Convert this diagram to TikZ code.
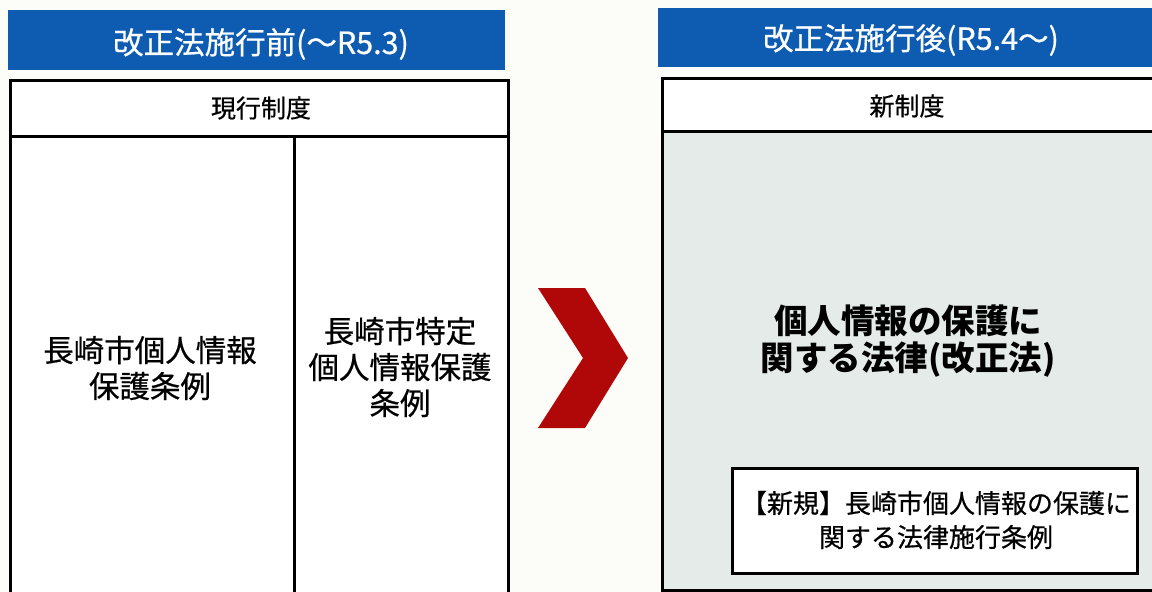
\documentclass[tikz,border=0pt]{standalone}
\usepackage{fontspec}
\setmainfont{Noto Sans CJK JP}
\newfontfamily\jpmed{Noto Sans CJK JP}[FakeBold=0.6]
\definecolor{hdrblue}{RGB}{14,92,178}
\definecolor{bgpaper}{RGB}{252,252,248}
\definecolor{newfill}{RGB}{228,235,232}
\definecolor{chevred}{RGB}{176,8,8}
\begin{document}
\begin{tikzpicture}[x=1pt,y=-1pt,
  hdrbar/.style={fill=hdrblue, draw=none},
  hdrtext/.style={text=white, font=\jpmed\fontsize{30.5}{34}\selectfont, inner sep=0pt},
  frameline/.style={line width=3pt, draw=black},
  celltext/.style={font=\jpmed\fontsize{30.5}{36}\selectfont, align=center, inner sep=0pt},
  headtext/.style={font=\jpmed\fontsize{25}{30}\selectfont, inner sep=0pt},
  bigtext/.style={font=\bfseries\fontsize{33.5}{37}\selectfont, align=center, inner sep=0pt},
  innertext/.style={font=\jpmed\fontsize{26}{34}\selectfont, align=center, inner sep=0pt},
]
\useasboundingbox (0,0) rectangle (1152,592);
\clip (0,0) rectangle (1152,592);
\fill[bgpaper] (0,0) rectangle (1152,592);

% headers
\fill[hdrbar] (8,10) rectangle (505,70);
\node[hdrtext] (h1) at (261,44) {改正法施行前(～R5.3)};
\fill[hdrbar] (658,8) rectangle (1160,67);
\node[hdrtext] (h2) at (911,40) {改正法施行後(R5.4～)};

% left frame
\fill[white] (10,80) rectangle (508,610);
\draw[frameline] (10,610) -- (10,80) -- (508,80) -- (508,610);
\draw[frameline] (10,136) -- (508,136);
\draw[frameline] (294,136) -- (294,610);
\node[headtext] (cur) at (261,108) {現行制度};
\node[celltext] (l1) at (150,368) {長崎市個人情報\\保護条例};
\node[celltext] (l2) at (400,367) {長崎市特定\\個人情報保護\\条例};

% chevron
\fill[chevred] (538,288) -- (585,288) -- (628,358) -- (585,428) -- (538,428) -- (583,358) -- cycle;

% right frame
\fill[white] (662,78) rectangle (1170,131);
\fill[newfill] (662,131) rectangle (1170,590);
\draw[frameline] (1170,78) -- (662,78) -- (662,590) -- (1170,590);
\draw[frameline] (662,131) -- (1170,131);
\node[headtext] (newsys) at (907,106) {新制度};
\node[bigtext] (law) at (908,341) {個人情報の保護に\\関する法律(改正法)};

% inner box
\node[frameline, fill=white, minimum width=405pt, minimum height=105pt, inner sep=0pt] (inner) at (934.5,520.5) {};
\node[innertext] (innert) at (936,520) {【新規】長崎市個人情報の保護に\\関する法律施行条例};
\end{tikzpicture}
\end{document}
